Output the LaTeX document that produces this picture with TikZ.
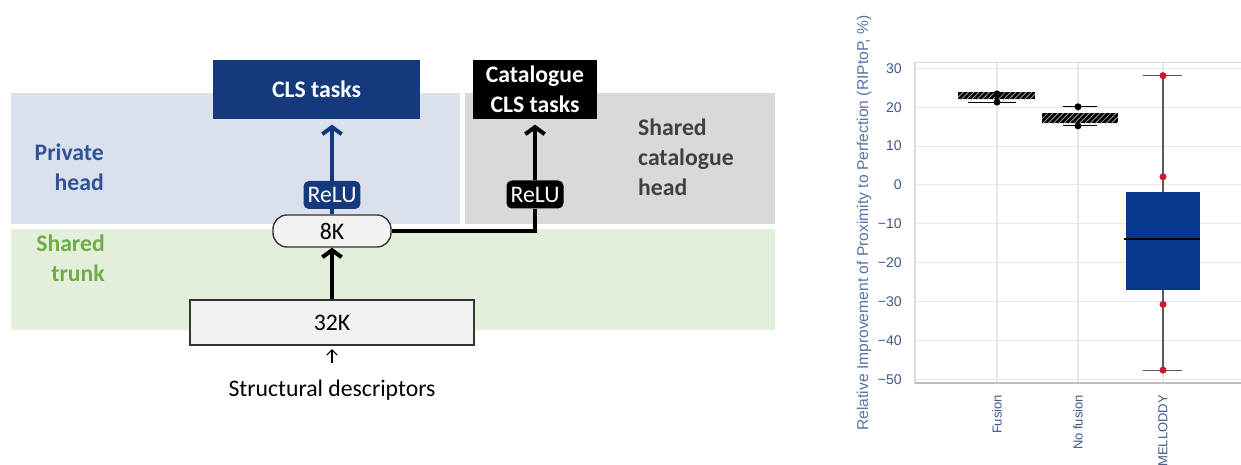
\documentclass[tikz,border=0pt]{standalone}
\usepackage{fontspec}
\setmainfont{Carlito}
\newfontfamily\plotfont{Liberation Sans}
\usetikzlibrary{arrows.meta,patterns}

\definecolor{headblue}{RGB}{219,225,236}
\definecolor{headgray}{RGB}{217,217,217}
\definecolor{trunkgreen}{RGB}{226,239,218}
\definecolor{clsblue}{RGB}{20,58,125}
\definecolor{privtext}{RGB}{47,84,150}
\definecolor{trunktext}{RGB}{112,173,71}
\definecolor{cattext}{RGB}{64,64,64}
\definecolor{layergray}{RGB}{242,242,242}
\definecolor{boxblue}{RGB}{5,55,140}
\definecolor{ticktext}{RGB}{62,88,135}
\definecolor{titletext}{RGB}{85,115,165}
\definecolor{gridgray}{RGB}{230,230,230}
\definecolor{outred}{RGB}{200,25,50}

\newcommand{\diagfont}{\fontsize{13.5}{17}\selectfont}

\begin{document}
\begin{tikzpicture}[x=0.02cm,y=-0.02cm,
    bandlabel/.style={font=\diagfont\bfseries},
    taskbox/.style={text=white, font=\diagfont\bfseries, align=center, inner sep=0pt, minimum height=1.18cm},
    layerbox/.style={draw=black!80, line width=0.8pt, fill=layergray, font=\diagfont, inner sep=0pt},
    relubox/.style={text=white, font=\diagfont, rounded corners=3pt, inner sep=1pt, minimum width=1.14cm, minimum height=0.56cm},
    link/.style={line width=2.3pt},
    tip/.style={-{Straight Barb[length=4pt,width=11pt]}},
    tick/.style={font=\plotfont\fontsize{8}{9}\selectfont, text=ticktext},
    xtick/.style={font=\plotfont\fontsize{7.4}{9}\selectfont, text=ticktext, rotate=90, anchor=east},
    grid/.style={gridgray, line width=0.6pt}]
    \useasboundingbox (0,0) rectangle (1241,465);

    % bands
    \fill[headblue] (11,93) rectangle (460,224);
    \fill[headgray] (465,93) rectangle (775,224);
    \fill[trunkgreen] (11,229) rectangle (775,330);

    \node[bandlabel, text=privtext, anchor=east, align=right] (privlabel) at (110,167) {Private\\head};
    \node[bandlabel, text=cattext, anchor=west, align=left] (catlabel) at (632,157) {Shared\\catalogue\\head};
    \node[bandlabel, text=trunktext, anchor=east, align=right] (trunklabel) at (111,258) {Shared\\trunk};

    \node[taskbox, fill=clsblue, minimum width=4.14cm] (cls) at (316.5,89.5) {CLS tasks};
    \node[taskbox, fill=black, minimum width=2.48cm] (cat) at (535,89.5) {Catalogue\\CLS tasks};
    \node[layerbox, rounded corners=8pt, minimum width=2.36cm, minimum height=0.64cm] (k8) at (332,231) {8K};
    \node[layerbox, minimum width=5.68cm, minimum height=0.9cm] (k32) at (332,322.5) {32K};
    \node[relubox, fill=clsblue] (reluA) at (332,195) {ReLU};
    \node[relubox, fill=black] (reluB) at (535,194.5) {ReLU};
    \node[font=\diagfont] (desc) at (332,390) {Structural descriptors};

    \draw[link, clsblue] (k8.north) -- (reluA.south);
    \draw[link, clsblue, tip, shorten >=3pt] (reluA.north) -- (reluA.north |- cls.south);
    \draw[link] (k8.east) -| (reluB.south);
    \draw[link, tip, shorten >=3pt] (reluB.north) -- (reluB.north |- cat.south);
    \draw[link, tip] (k32.north) -- (k8.south);
    \draw[line width=0.6pt, -{Straight Barb[length=3pt,width=6pt]}, shorten <=6pt, shorten >=2pt] (desc.north) -- (k32.south);

    % box plot
    \begin{scope}[yshift=-3.7cm, y=0.0778cm]
        \foreach \v/\t [count=\i] in {30/30,20/20,10/10,0/0,-10/−10,-20/−20,-30/−30,-40/−40,-50/−50} {
            \draw[grid] (915,\v) -- (1241,\v);
            \node[tick, anchor=east] (ytick\i) at (908,\v) {\t};
        }
        \foreach \c in {997,1078,1163}
            \draw[grid] (\c,31.6) -- (\c,-51);
        \draw[gridgray!70!black!40, line width=0.6pt] (915,-51) -- (915,31.6) -- (1241,31.6);
        \draw[black!25, line width=1pt] (915,-51) -- (1241,-51);

        \node[tick, text=titletext, rotate=90, font=\plotfont\fontsize{8.9}{10}\selectfont] (ytitle) at (864,-9.8) {Relative Improvement of Proximity to Perfection (RIPtoP, \%)};
        \node[xtick] (xfusion) at (997,-52.4) {Fusion};
        \node[xtick] (xnofusion) at (1078,-52.4) {No fusion};
        \node[xtick] (xmelloddy) at (1163,-52.4) {MELLODDY};

        % Fusion
        \draw[black, line width=0.6pt] (968,21.3) -- (1016,21.3);
        \fill[black] (958,22.1) rectangle (1035,23.8);
        \fill[pattern=north east lines, pattern color=white!70!black] (958,22.1) rectangle (1035,23.8);
        \fill[black] (997,23.4) circle (2pt);
        \fill[black] (997,21.3) circle (2pt);

        % No fusion
        \draw[black, line width=0.6pt] (1063,20.1) -- (1097,20.1);
        \draw[black, line width=0.6pt] (1063,15.2) -- (1097,15.2);
        \fill[black] (1042,15.9) rectangle (1118,18.4);
        \fill[pattern=north east lines, pattern color=white!70!black] (1042,15.9) rectangle (1118,18.4);
        \fill[black] (1078,20.1) circle (2pt);
        \fill[black] (1078,15.2) circle (2pt);

        % MELLODDY
        \draw[black!65, line width=0.6pt] (1163,28.1) -- (1163,-47.6);
        \draw[black!65, line width=0.6pt] (1143,28.1) -- (1182,28.1);
        \draw[black!65, line width=0.6pt] (1143,-47.6) -- (1182,-47.6);
        \fill[boxblue] (1126,-1.8) rectangle (1200,-27);
        \draw[black, line width=1.5pt] (1124,-13.9) -- (1200,-13.9);
        \foreach \p in {28.1,2.1,-30.7,-47.6}
            \fill[outred] (1163,\p) circle (2pt);
    \end{scope}
\end{tikzpicture}
\end{document}
